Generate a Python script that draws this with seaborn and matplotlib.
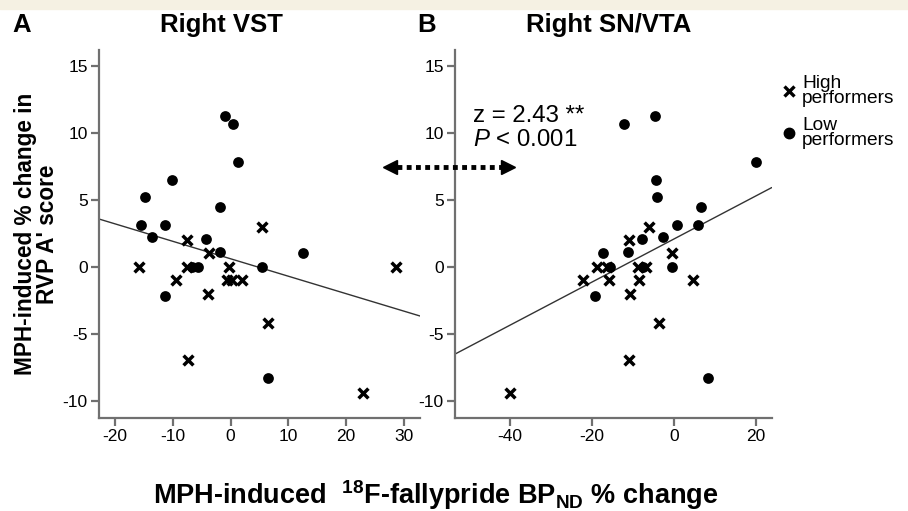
import matplotlib.pyplot as plt
import matplotlib.patches as mpatches
from matplotlib.lines import Line2D
import pandas as pd
import seaborn as sns

# Right VST panel
vst_high_x = [-7.6, 5.4, -3.8, -15.8, -7.6, -0.3, 28.7, -9.4, -0.7, 0.3, 1.9, -4.0, 6.5, -7.4, 23.0]
vst_high_y = [2.0, 3.0, 1.0, 0, 0, 0, 0, -1, -1, -1, -1, -2, -4.2, -7.0, -9.4]
vst_low_x = [-1.0, 0.35, 1.2, -10.2, -14.9, -1.9, -15.6, -11.3, -13.7, -4.3, -1.9, 12.5, -6.6, -5.7, 5.4, -11.4, 6.5]
vst_low_y = [11.3, 10.7, 7.8, 6.5, 5.2, 4.5, 3.1, 3.1, 2.2, 2.1, 1.1, 1.0, 0, 0, 0, -2.2, -8.3]

# Right SN/VTA panel
sn_high_x = [-6.1, -11.0, -0.5, -18.8, -16.3, -8.8, -6.8, -22.2, -15.9, -8.5, 4.6, -10.7, -3.7, -11.0, -40.0]
sn_high_y = [3.0, 2.0, 1.0, 0, 0, 0, 0, -1, -1, -1, -1, -2, -4.2, -7.0, -9.4]
sn_low_x = [-4.6, -12.2, 20.0, -4.4, -4.1, 6.6, 0.7, 5.9, -2.7, -7.8, -11.2, -17.3, -0.5, -15.6, -7.6, -19.3, 8.3]
sn_low_y = [11.3, 10.7, 7.8, 6.5, 5.2, 4.5, 3.1, 3.1, 2.2, 2.1, 1.1, 1.0, 0, 0, 0, -2.2, -8.3]

vst_xticks = [-20, -10, 0, 10, 20, 30]
sn_xticks = [-40, -20, 0, 20]
yticks = [15, 10, 5, 0, -5, -10]

sns.set_style('white')
plt.rcParams['font.family'] = ['Liberation Sans', 'DejaVu Sans']
plt.rcParams['text.color'] = 'black'
plt.rcParams['axes.unicode_minus'] = False
plt.rcParams['mathtext.fontset'] = 'custom'
plt.rcParams['mathtext.bf'] = 'Liberation Sans:bold'
plt.rcParams['mathtext.rm'] = 'Liberation Sans'
plt.rcParams['mathtext.it'] = 'Liberation Sans:italic'

fig = plt.figure(figsize=(9.08, 5.11), dpi=100)
fig.patch.set_facecolor('white')
fig.add_artist(mpatches.Rectangle((0, 0.982), 1, 0.018, transform=fig.transFigure,
                                  color='#f5f1e3', zorder=0))

ax1 = fig.add_axes([0.109, 0.182, 0.3535, 0.720])
ax2 = fig.add_axes([0.501, 0.182, 0.349, 0.720])

spine_col = '#707070'


def draw_panel(ax, hx, hy, lx, ly, xlim, xticks, title, title_x, letter, letter_x):
    df_h = pd.DataFrame({'x': hx, 'y': hy})
    df_l = pd.DataFrame({'x': lx, 'y': ly})
    df_all = pd.concat([df_h, df_l])
    ax.set_xlim(xlim)
    ax.set_ylim(-11.3, 16.2)
    sns.regplot(data=df_all, x='x', y='y', scatter=False, ci=None, truncate=False,
                ax=ax, line_kws={'color': '#333333', 'lw': 1.0})
    sns.scatterplot(data=df_l, x='x', y='y', ax=ax, color='black', marker='o',
                    s=60, edgecolor='black', linewidth=0, zorder=3)
    sns.scatterplot(data=df_h, x='x', y='y', ax=ax, color='black', marker='x',
                    s=50, linewidth=2.5, zorder=3)
    ax.set_xlim(xlim)
    ax.set_xticks(xticks)
    ax.set_yticks(yticks)
    ax.set_xlabel('')
    ax.set_ylabel('')
    for s in ['top', 'right']:
        ax.spines[s].set_visible(False)
    for s in ['left', 'bottom']:
        ax.spines[s].set_color(spine_col)
        ax.spines[s].set_linewidth(1.6)
    ax.tick_params(axis='both', direction='out', length=6, width=1.6, color=spine_col,
                   labelcolor='black', labelsize=12.5, pad=2, left=True, bottom=True)
    ax.text(title_x, 1.068, title, transform=ax.transAxes, ha='center', va='center',
            fontsize=18.5, fontweight='bold')
    fig.text(letter_x, 0.951, letter, fontsize=18.5, fontweight='bold', va='center')


draw_panel(ax1, vst_high_x, vst_high_y, vst_low_x, vst_low_y, (-22.8, 32.8),
           vst_xticks, 'Right VST', 0.38, 'A', 0.014)
draw_panel(ax2, sn_high_x, sn_high_y, sn_low_x, sn_low_y, (-53.4, 23.9),
           sn_xticks, 'Right SN/VTA', 0.486, 'B', 0.459)

fig.text(0.04, 0.542, "MPH-induced % change in\nRVP A' score", rotation=90,
         ha='center', va='center', fontsize=16.3, fontweight='bold', linespacing=0.95)

fig.text(0.48, 0.031, r"MPH-induced  $^{\mathbf{18}}$F-fallypride BP$_{\mathbf{ND}}$ % change",
         ha='center', va='center', fontsize=19.5, fontweight='bold')

fig.text(0.521, 0.773, 'z = 2.43 **', fontsize=17.3, va='center')
fig.text(0.521, 0.727, r'$\mathit{P}$ < 0.001', fontsize=17.3, va='center')

# double-headed dotted arrow between the panels
fig.add_artist(Line2D([0.437, 0.553], [0.673, 0.673], transform=fig.transFigure,
                      color='black', lw=3.5, linestyle=(0, (1, 0.9))))
fig.add_artist(Line2D([0.430], [0.673], transform=fig.transFigure, marker='<',
                      markersize=10, color='black', lw=0))
fig.add_artist(Line2D([0.559], [0.673], transform=fig.transFigure, marker='>',
                      markersize=10, color='black', lw=0))

handles = [Line2D([], [], color='black', marker='x', lw=0, markersize=7.5, markeredgewidth=2.4),
           Line2D([], [], color='black', marker='o', lw=0, markersize=7.5)]
leg = fig.legend(handles, ['High\nperformers', 'Low\nperformers'], loc='upper left',
                 bbox_to_anchor=(0.855, 0.868), frameon=False, fontsize=13.8,
                 handlelength=0.5, handletextpad=0.45, labelspacing=0.5, borderaxespad=0)
for t in leg.get_texts():
    t.set_linespacing(0.85)

fig.savefig('out.png', dpi=100, facecolor='white')
